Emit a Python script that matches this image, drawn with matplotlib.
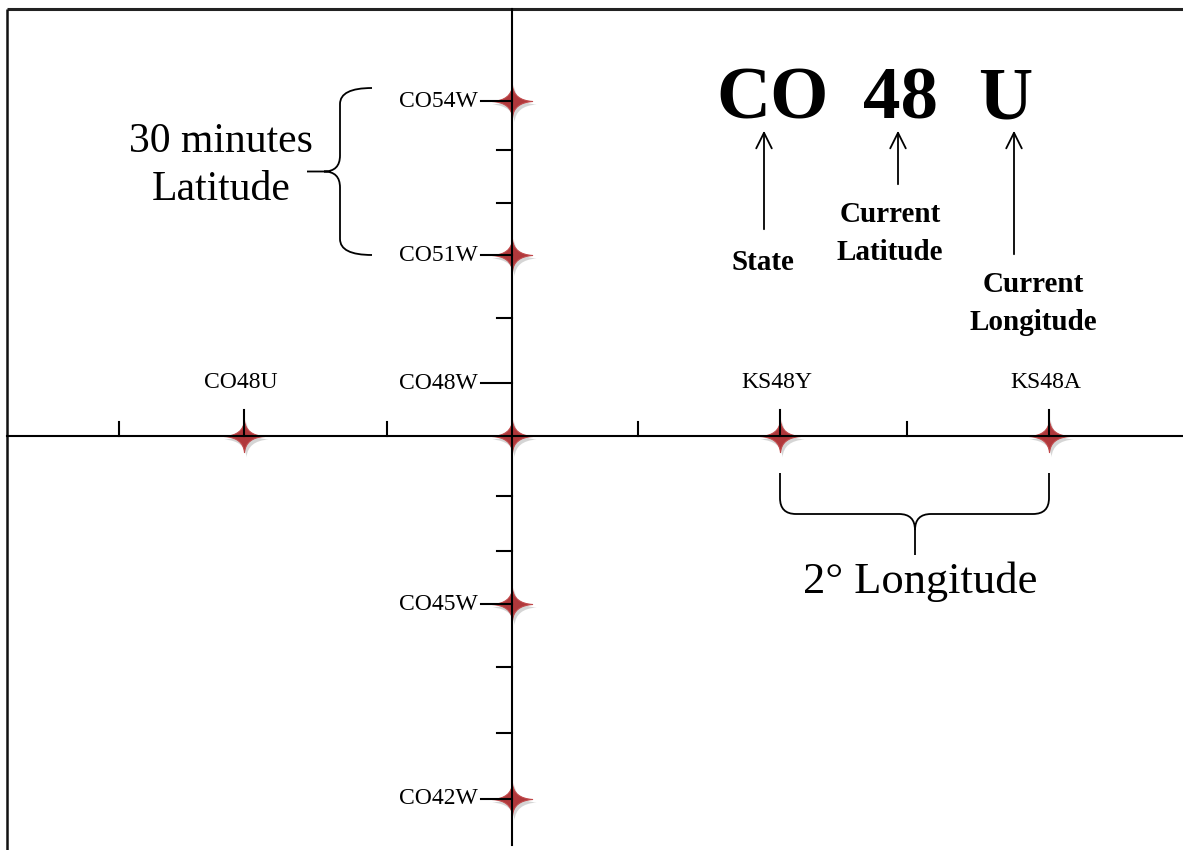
import numpy as np
import matplotlib
matplotlib.use("Agg")
import matplotlib.pyplot as plt
from matplotlib.path import Path
from matplotlib.patches import PathPatch

# diagram layout (pixel-like units, y grows downward)
origin_x = 512
origin_y = 436

lon_ticks_x = [119, 244, 387, 512, 638, 780, 907, 1049]
lon_label_x = [244, 780, 1049]
lon_labels = ["CO48U", "KS48Y", "KS48A"]

lat_ticks_y = [101, 150, 203, 255, 318, 383, 496, 551, 604, 667, 733, 799]
lat_label_y = [101, 255, 383, 604, 799]
lat_labels = ["CO54W", "CO51W", "CO48W", "CO45W", "CO42W"]

star_x = [512, 512, 244, 512, 780, 1049, 512, 512]
star_y = [101, 255, 436, 436, 436, 436, 604, 799]

code_parts = ["CO", "48", "U"]
code_x = [773, 901, 1005]
arrow_x = [764, 898, 1014]
code_tail_y = [232, 187, 257]
code_desc = [["State"], ["Current", "Latitude"], ["Current", "Longitude"]]
code_desc_x = [763, 890, 1033]
code_desc_y = [270, 222, 292]

serif = "Liberation Serif"

fig = plt.figure(figsize=(11.83, 8.5), dpi=100)
ax = fig.add_axes([0, 0, 1, 1])
ax.set_xlim(0, 1183)
ax.set_ylim(850, 0)
ax.axis("off")

# frame (top and left only)
ax.plot([7, 1183], [9, 9], color="#222222", lw=2.2, solid_capstyle="butt")
ax.plot([7, 7], [9, 850], color="#111111", lw=1.8, solid_capstyle="butt")

# axes lines
ax.plot([7, 1183], [origin_y, origin_y], color="black", lw=1.5, zorder=3)
ax.plot([origin_x, origin_x], [9, 845], color="black", lw=1.5, zorder=3)

# four-pointed sparkle marker
c = 0.06
M, L, C = Path.MOVETO, Path.LINETO, Path.CURVE3
star = Path([(1, 0), (c, c), (0, 0.8), (-c, c), (-1, 0), (-c, -c), (0, -0.8), (c, -c), (1, 0), (1, 0)],
            [M, C, C, C, C, C, C, C, C, Path.CLOSEPOLY])
ax.plot(np.array(star_x) + 2, np.array(star_y) + 3, linestyle="none", marker=star,
        markersize=32, markerfacecolor="#777777", markeredgecolor="none", alpha=0.3, zorder=1)
ax.plot(star_x, star_y, linestyle="none", marker=star, markersize=29,
        markerfacecolor="#b0383b", markeredgecolor="#c0484a", markeredgewidth=0.8, zorder=2)

# longitude ticks
for x in lon_ticks_x:
    if x == origin_x:
        continue
    top = 410 if x in lon_label_x else 422
    ax.plot([x, x], [origin_y, top], color="black", lw=1.5, zorder=3)
for x, lab in zip(lon_label_x, lon_labels):
    ax.text(x - 3, 382, lab, ha="center", va="center", fontsize=17, family=serif)

# latitude ticks
for y in lat_ticks_y:
    left = 481 if y in lat_label_y else 497
    ax.plot([left, origin_x], [y, y], color="black", lw=1.5, zorder=3)
for y, lab in zip(lat_label_y, lat_labels):
    ax.text(478, y, lab, ha="right", va="center", fontsize=17, family=serif)


def draw_path(pts, codes):
    ax.add_patch(PathPatch(Path(pts, codes), facecolor="none", edgecolor="black", lw=1.3, zorder=3))


# left brace between CO54W and CO51W
y0, y1 = lat_label_y[0] - 13, lat_label_y[1]
ym = (y0 + y1) / 2
bx, ex, tx, r = 340, 372, 307, 16
draw_path([(ex, y0), (bx, y0), (bx, y0 + r), (bx, ym - r), (bx, ym), (bx - r, ym), (tx, ym),
           (bx - r, ym), (bx, ym), (bx, ym + r), (bx, y1 - r), (bx, y1), (ex, y1)],
          [M, C, C, L, C, C, L, M, C, C, L, C, C])
ax.text(221, 152, "30 minutes", ha="center", va="baseline", fontsize=30, family=serif)
ax.text(221, 200, "Latitude", ha="center", va="baseline", fontsize=30, family=serif)

# bottom brace between KS48Y and KS48A
x0, x1 = lon_label_x[1], lon_label_x[2]
xm = 915
yt, yb, ytip = 473, 514, 555
draw_path([(x0, yt), (x0, yb - r), (x0, yb), (x0 + r, yb), (xm - r, yb), (xm, yb), (xm, yb + r), (xm, ytip),
           (xm, yb + r), (xm, yb), (xm + r, yb), (x1 - r, yb), (x1, yb), (x1, yb - r), (x1, yt)],
          [M, L, C, C, L, C, C, L, M, C, C, L, C, C, L])
ax.text(920, 593, "2° Longitude", ha="center", va="baseline", fontsize=32, family=serif)

# grid square code explanation
for part, x, axx, tail, desc, dx, dy in zip(code_parts, code_x, arrow_x, code_tail_y,
                                            code_desc, code_desc_x, code_desc_y):
    ax.text(x, 118, part, ha="center", va="baseline", fontsize=54, fontweight="bold", family=serif)
    ax.annotate("", xy=(axx, 128), xytext=(axx, tail),
                arrowprops=dict(arrowstyle="->", lw=1.3, mutation_scale=28, color="black"))
    for i, line in enumerate(desc):
        ax.text(dx, dy + 38 * i, line, ha="center", va="baseline", fontsize=21,
                fontweight="bold", family=serif)

fig.savefig("out.png", dpi=100)
